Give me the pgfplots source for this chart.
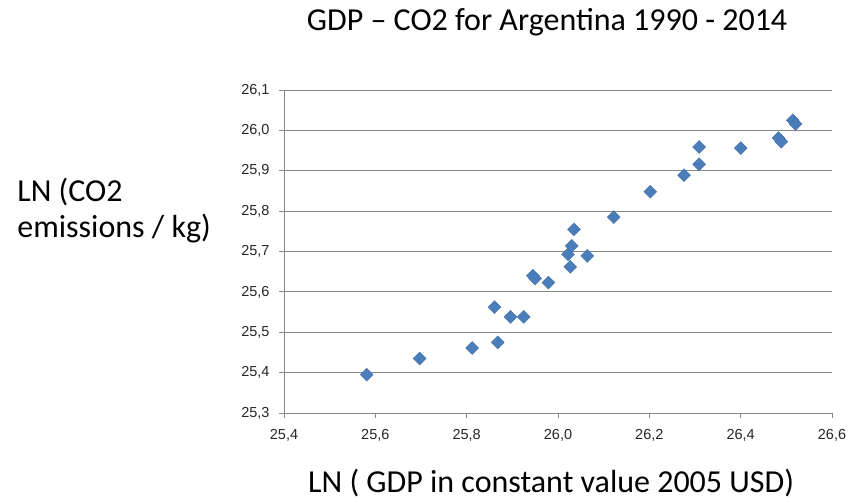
\documentclass[border=0pt]{standalone}
\usepackage{pgfplots}
\pgfplotsset{compat=1.18}
\usepackage{fontspec}
\setmainfont{Carlito}
\newfontfamily\tickfont{Liberation Sans}
\definecolor{ptblue}{RGB}{74,126,187}
\definecolor{gridgray}{RGB}{134,134,134}
\begin{document}
\begin{tikzpicture}
\useasboundingbox (0,0) rectangle (851bp,502bp);
\begin{axis}[
  at={(284bp,89bp)}, anchor=south west,
  scale only axis, width=548bp, height=323bp,
  xmin=25.4, xmax=26.6, ymin=25.3, ymax=26.1,
  xtick={25.4,25.6,...,26.61}, ytick={25.3,25.4,...,26.11},
  axis lines=left, axis line style={-, draw=gridgray, line width=0.8bp},
  ymajorgrids, grid style={draw=gridgray, line width=0.8bp},
  tick align=outside, major tick length=5bp,
  tick style={draw=gridgray, line width=0.8bp},
  /pgf/number format/.cd, use comma, fixed, fixed zerofill, precision=1, assume math mode=true,
  /pgfplots/.cd,
  tick label style={font=\tickfont\fontsize{14.5bp}{17bp}\selectfont, text=black!85},
  xticklabel style={yshift=-8bp},
  yticklabel style={xshift=-6bp},
  title={GDP -- CO2 for Argentina 1990 - 2014},
  title style={at={(rel axis cs:0.48,1.167)}, anchor=base, font=\fontsize{32bp}{38bp}\selectfont},
  xlabel={LN ( GDP in constant value 2005 USD)},
  every axis x label/.style={at={(rel axis cs:0.4875,-0.245)}, anchor=base, font=\fontsize{32bp}{38bp}\selectfont},
  ylabel={LN (CO2\\emissions / kg)},
  every axis y label/.style={at={(rel axis cs:-0.493,0.628)}, anchor=west, align=left, font=\fontsize{32bp}{36bp}\selectfont},
]
\addplot[only marks, mark=square*, mark size=4.6bp, mark options={rotate=45, fill=ptblue, draw=ptblue!85!black, line width=0.3bp}] coordinates {
(25.581,25.395)
(25.697,25.435)
(25.812,25.461)
(25.868,25.475)
(25.861,25.562)
(25.896,25.538)
(25.925,25.538)
(25.945,25.640)
(25.950,25.633)
(25.979,25.623)
(26.022,25.693)
(26.027,25.662)
(26.030,25.714)
(26.035,25.755)
(26.064,25.689)
(26.122,25.785)
(26.202,25.848)
(26.276,25.889)
(26.309,25.916)
(26.309,25.959)
(26.400,25.956)
(26.483,25.981)
(26.489,25.972)
(26.514,26.025)
(26.520,26.016)
};
\end{axis}
\end{tikzpicture}
\end{document}
